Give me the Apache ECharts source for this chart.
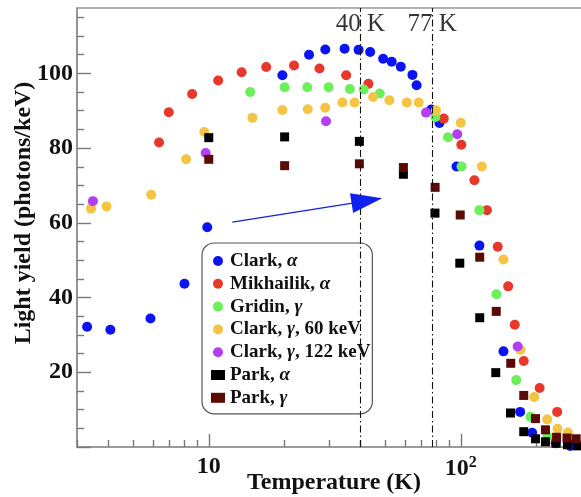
<!DOCTYPE html>
<html>
<head>
<meta charset="utf-8">
<script src="https://cdn.jsdelivr.net/npm/echarts@6/dist/echarts.min.js"></script>
<style>html,body{margin:0;padding:0;background:#fff}#c{width:581px;height:497px}</style>
</head>
<body>
<div id="c"></div>
<script>
// ---- data (Temperature K, Light yield photons/keV) ----
var clarkAlphaT = [3.29, 4.07, 5.87, 8.01, 9.86, 19.6, 25.0, 29.0, 34.6, 39.3, 43.7, 49.2, 53.2, 57.8, 64.3, 66.8, 76.3, 82.3, 96.2, 118.6, 147.7, 172, 192, 238, 272];
var clarkAlphaY = [32.2, 31.4, 34.4, 43.7, 58.8, 99.5, 105.0, 106.4, 106.6, 106.3, 105.7, 103.9, 103.1, 101.8, 99.6, 96.8, 90.3, 86.7, 75.1, 53.9, 25.6, 9.4, 3.8, 1.0, 0.3];

var mikhailikAlphaT = [6.35, 6.94, 8.59, 10.9, 13.5, 16.9, 21.8, 27.5, 35.1, 43.0, 85.6, 100.5, 113.3, 127, 140.2, 154.2, 163.8, 177.8, 205.6, 241.3];
var mikhailikAlphaY = [81.5, 89.6, 94.5, 98.1, 100.3, 101.7, 102.1, 101.3, 99.5, 97.2, 87.9, 80.9, 71.4, 63.4, 53.6, 43.0, 32.7, 23.0, 15.8, 9.4];

var gridinGammaT = [14.6, 20.0, 24.6, 29.9, 36.3, 41.2, 47.7, 79.3, 89.0, 100.7, 118.6, 138.6, 166, 189, 221];
var gridinGammaY = [95.0, 96.3, 96.3, 96.3, 95.8, 95.7, 94.6, 88.3, 82.9, 75.1, 63.4, 40.9, 17.9, 8.1, 2.8];

var clarkGamma60T = [3.41, 3.93, 5.91, 8.13, 9.60, 14.9, 19.6, 24.7, 29.0, 33.9, 37.9, 44.9, 52.1, 61.1, 68.1, 79.7, 100, 121.2, 147.7, 172.6, 195.6, 220.4, 242, 266];
var clarkGamma60Y = [63.8, 64.4, 67.5, 77.0, 84.3, 88.1, 90.2, 90.4, 90.8, 92.2, 92.2, 93.7, 92.8, 92.2, 92.2, 90.1, 86.8, 75.1, 50.2, 26.0, 13.4, 7.4, 4.9, 3.9];

var clarkGamma122T = [3.47, 9.72, 29.2, 72.8, 96.8, 168.2];
var clarkGamma122Y = [65.8, 78.7, 87.2, 89.5, 83.7, 26.9];

var parkAlphaT = [10.0, 20.0, 39.6, 59.2, 79.0, 99.1, 118.9, 137.7, 157.5, 177.8, 197.9, 216.8, 239, 265, 290];
var parkAlphaY = [82.8, 83.0, 81.8, 73.0, 62.6, 49.2, 34.6, 19.9, 9.1, 4.1, 2.2, 1.4, 1.0, 0.6, 0.3];

var parkGammaT = [10.0, 20.0, 39.6, 59.2, 79.1, 99.5, 118.9, 138.3, 157.9, 177.8, 197.9, 216.8, 240, 264, 287];
var parkGammaY = [77.0, 75.3, 75.8, 74.8, 69.5, 62.1, 50.8, 36.3, 22.4, 13.8, 7.6, 4.6, 2.6, 2.4, 2.2];

var seriesNames = ['Clark, α', 'Mikhailik, α', 'Gridin, γ', 'Clark, γ, 60 keV', 'Clark, γ, 122 keV', 'Park, α', 'Park, γ'];
var refTemps = [40, 77];              // vertical reference lines (K)
var arrowFrom = [12.4, 60.2];         // arrow start (T, LY)
var arrowTo = [42.4, 65.9];           // arrow head centre (T, LY)

var xMajorTicks = [10, 100];
var xMinorTicks = [3, 4, 5, 6, 7, 8, 9, 20, 30, 40, 50, 60, 70, 80, 90, 200, 300];
var yLabels = [20, 40, 60, 80, 100];
var yMajorTicks = [0, 20, 40, 60, 80, 100];
var yMinorTicks = [5, 10, 15, 25, 30, 35, 45, 50, 55, 65, 70, 75, 85, 90, 95, 105, 110, 115];

// ---- helpers ----
function zip(a, b) { return a.map(function (v, i) { return [v, b[i]]; }); }
var SERIF = '"Liberation Serif", "DejaVu Serif", serif';
var AXC = '#7a7a7a';

var colors = ['#0a14f0', '#e8382b', '#6cf05a', '#f6c444', '#b43ef2', '#000000', '#5c0a06'];
var symbols = ['circle', 'circle', 'circle', 'circle', 'circle', 'rect', 'rect'];
var datasets = [
  zip(clarkAlphaT, clarkAlphaY),
  zip(mikhailikAlphaT, mikhailikAlphaY),
  zip(gridinGammaT, gridinGammaY),
  zip(clarkGamma60T, clarkGamma60Y),
  zip(clarkGamma122T, clarkGamma122Y),
  zip(parkAlphaT, parkAlphaY),
  zip(parkGammaT, parkGammaY)
];

var series = seriesNames.map(function (n, i) {
  return {
    name: n, type: 'scatter', xAxisIndex: 0, yAxisIndex: 0,
    symbol: symbols[i], symbolSize: symbols[i] === 'rect' ? 9 : 10,
    itemStyle: { color: colors[i], opacity: 1 },
    data: datasets[i], z: 3
  };
});

// reference lines, labels and arrow
series.unshift({
  name: 'refs', type: 'scatter', xAxisIndex: 0, yAxisIndex: 0,
  symbolSize: 0, silent: true, z: 2,
  data: refTemps.map(function (t) { return [t, 113.2]; }),
  label: {
    show: true, position: 'inside',
    formatter: function (p) { return p.value[0] + ' K'; },
    fontFamily: SERIF, fontSize: 25, color: '#000'
  },
  markLine: {
    silent: true, symbol: ['none', 'none'], animation: false,
    label: { show: false },
    lineStyle: { color: '#111', type: [7, 3, 1.5, 3], width: 1.1 },
    data: refTemps.map(function (t) { return { xAxis: t }; }).concat([[
      { coord: arrowFrom, symbol: 'none', lineStyle: { color: '#1020f0', type: 'solid', width: 1.2 } },
      { coord: arrowTo, symbol: 'triangle', symbolSize: [20, 31], lineStyle: { color: '#1020f0', type: 'solid', width: 1.2 } }
    ]])
  }
});

var chart = echarts.init(document.getElementById('c'), null, { renderer: 'canvas' });
var labelFont = { fontFamily: SERIF, fontWeight: 'bold', fontSize: 24, color: '#111' };

chart.setOption({
  animation: false,
  backgroundColor: '#fff',
  grid: { left: 77, right: 0, top: 8, bottom: 50, containLabel: false },
  xAxis: [
    {
      type: 'log', logBase: 10, min: 3, max: 300, position: 'bottom',
      axisLine: { show: true, lineStyle: { color: AXC, width: 1.6 } },
      axisTick: { show: true, inside: true, length: 13, customValues: xMajorTicks, lineStyle: { color: AXC, width: 1.4 } },
      axisLabel: Object.assign({
        show: true, margin: 8, customValues: xMajorTicks,
        formatter: function (v) { return v === 100 ? '10{sup|2}' : String(Math.round(v)); },
        rich: { sup: { fontFamily: SERIF, fontWeight: 'bold', fontSize: 16, color: '#111', padding: [0, 0, 12, 0] } }
      }, labelFont),
      splitLine: { show: false }, minorTick: { show: false }
    },
    {
      type: 'log', logBase: 10, min: 3, max: 300, position: 'bottom',
      axisLine: { show: false },
      axisTick: { show: true, inside: true, length: 7, customValues: xMinorTicks, lineStyle: { color: AXC, width: 1.4 } },
      axisLabel: { show: false }, splitLine: { show: false }
    },
    {
      type: 'log', logBase: 10, min: 3, max: 300, position: 'top',
      axisLine: { show: true, lineStyle: { color: '#9a9a9a', width: 1.6 } },
      axisTick: { show: false }, axisLabel: { show: false }, splitLine: { show: false }
    }
  ],
  yAxis: [
    {
      type: 'value', min: 0, max: 117.5, interval: 20, position: 'left',
      axisLine: { show: true, lineStyle: { color: AXC, width: 1.6 } },
      axisTick: { show: true, inside: true, length: 14, customValues: yMajorTicks, lineStyle: { color: AXC, width: 1.4 } },
      axisLabel: Object.assign({ show: true, margin: 4, customValues: yLabels }, labelFont),
      splitLine: { show: false }
    },
    {
      type: 'value', min: 0, max: 117.5, position: 'left',
      axisLine: { show: false },
      axisTick: { show: true, inside: true, length: 7, customValues: yMinorTicks, lineStyle: { color: AXC, width: 1.4 } },
      axisLabel: { show: false }, splitLine: { show: false }
    }
  ],
  legend: {
    data: seriesNames,
    orient: 'vertical', left: 202, top: 243,
    padding: [8, 2, 6, 9],
    itemGap: 2.8, itemWidth: 14, itemHeight: 10,
    backgroundColor: '#fff', borderColor: '#555', borderWidth: 1.2, borderRadius: 12,
    selectedMode: false,
    formatter: function (n) { return n.replace(/([αγ])/g, '{g|$1}'); },
    textStyle: {
      fontFamily: SERIF, fontWeight: 'bold', fontSize: 19, color: '#111', lineHeight: 20,
      rich: { g: { fontFamily: SERIF, fontWeight: 'bold', fontStyle: 'italic', fontSize: 19, color: '#111', lineHeight: 20 } }
    }
  },
  graphic: [
    {
      type: 'text', x: 24, y: 213, rotation: Math.PI / 2,
      style: { text: 'Light yield (photons/keV)', fontFamily: SERIF, fontWeight: 'bold', fontSize: 24, fill: '#111', align: 'center', verticalAlign: 'middle' }
    },
    {
      type: 'text', x: 334, y: 483,
      style: { text: 'Temperature (K)', fontFamily: SERIF, fontWeight: 'bold', fontSize: 24, fill: '#111', align: 'center', verticalAlign: 'middle' }
    }
  ],
  series: series
});
</script>
</body>
</html>
